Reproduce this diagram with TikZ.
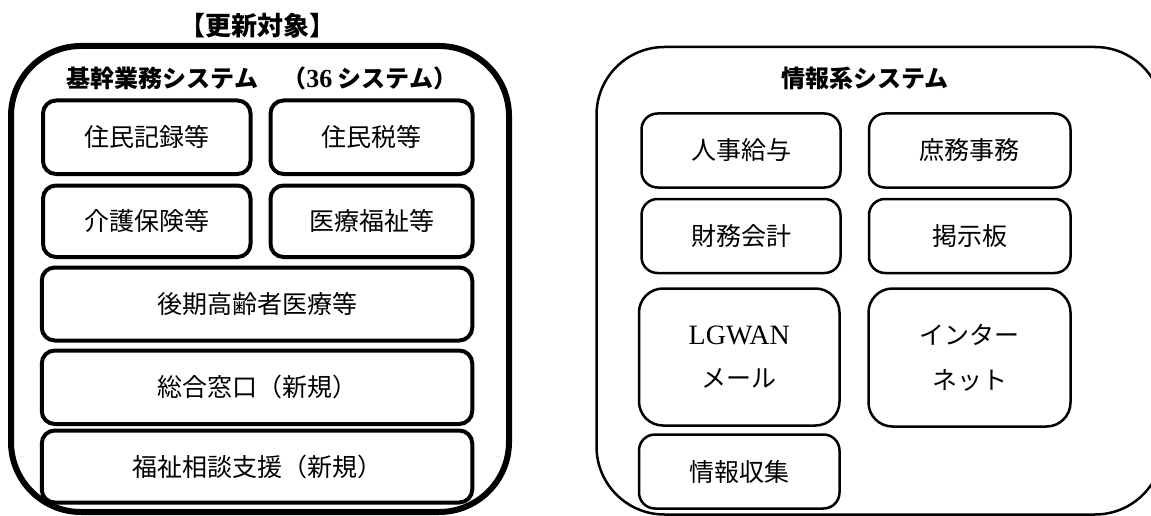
\documentclass[tikz,border=0pt]{standalone}
\usepackage{fontspec}
\setmainfont{Liberation Serif}
\newfontfamily\jp{Noto Sans CJK JP}
\begin{document}
\begin{tikzpicture}[x=1pt,y=-1pt,
  box/.style={draw, rectangle, inner sep=0pt, align=center},
  outerL/.style={box, line width=6pt, rounded corners=70pt},
  innerL/.style={box, line width=4pt, rounded corners=13pt, font=\jp\fontsize{25}{30}\selectfont},
  outerR/.style={box, line width=2.5pt, rounded corners=68pt},
  innerR/.style={box, line width=2.5pt, rounded corners=16pt, font=\jp\fontsize{25}{30}\selectfont},
  tallR/.style={box, line width=2.5pt, rounded corners=24pt},
  head/.style={inner sep=0pt, font=\jp\bfseries\fontsize{24}{28}\selectfont}]
\useasboundingbox (0,0) rectangle (1151,516);
\clip (0,0) rectangle (1151,516);
% left group
\node[head, font=\jp\bfseries\fontsize{26}{30}\selectfont] (title) at (257,26) {【更新対象】};
\node[outerL, minimum width=498pt, minimum height=466pt] (kikan) at (260,279) {};
\node[head] (kikanhead) at (262,78) {基幹業務システム　（{\rmfamily\bfseries\fontsize{26}{30}\selectfont 36} システム）};
\node[innerL, minimum width=207.5pt, minimum height=73.5pt] (jumin) at (146.75,137.25) {住民記録等};
\node[innerL, minimum width=202pt, minimum height=73.5pt] (zei) at (371.5,137.25) {住民税等};
\node[innerL, minimum width=207.5pt, minimum height=71.5pt] (kaigo) at (146.75,221.25) {介護保険等};
\node[innerL, minimum width=202pt, minimum height=71.5pt] (iryo) at (371.5,221.25) {医療福祉等};
\node[innerL, minimum width=430.5pt, minimum height=73pt] (koki) at (257,304) {後期高齢者医療等};
\node[innerL, minimum width=430.5pt, minimum height=73.5pt] (sogo) at (257,387.25) {総合窓口（新規）};
\node[innerL, minimum width=430.5pt, minimum height=72pt] (fukushi) at (257,466.5) {福祉相談支援（新規）};
% right group
\node[outerR, minimum width=566.5pt, minimum height=467.5pt] (joho) at (879.75,280.75) {};
\node[head] (johohead) at (865,78) {情報系システム};
\node[innerR, minimum width=199pt, minimum height=74pt] (jinji) at (741,150.5) {人事給与};
\node[innerR, minimum width=201.5pt, minimum height=74pt] (shomu) at (969.75,150.5) {庶務事務};
\node[innerR, minimum width=199pt, minimum height=74pt] (zaimu) at (741,236) {財務会計};
\node[innerR, minimum width=201.5pt, minimum height=74pt] (keiji) at (969.75,236) {掲示板};
\node[tallR, minimum width=200.5pt, minimum height=137pt, font=\fontsize{28}{43}\selectfont] (lgwan) at (739.25,357) {LGWAN\\{\jp\fontsize{25}{43}\selectfont メール}};
\node[tallR, minimum width=202pt, minimum height=138pt, font=\jp\fontsize{25}{45}\selectfont] (inet) at (969.5,357.5) {インター\\ネット};
\node[innerR, minimum width=200.5pt, minimum height=74pt] (shushu) at (739.25,471.5) {情報収集};
\end{tikzpicture}
\end{document}
